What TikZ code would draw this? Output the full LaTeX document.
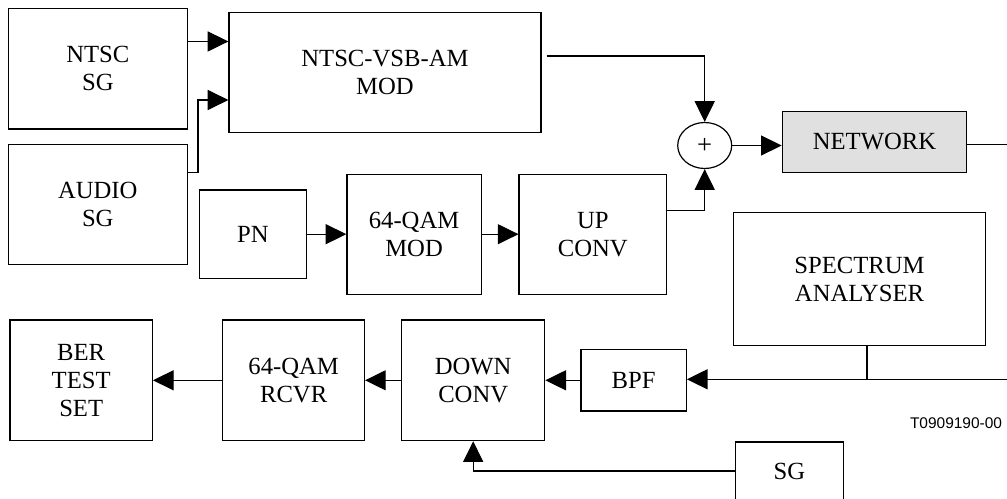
\documentclass[tikz,border=0pt]{standalone}
\usepackage{fontspec}
\setmainfont{Liberation Serif}
\newfontfamily\labelfont{Liberation Sans}
\usepackage{tikz}
\usetikzlibrary{shapes.geometric, arrows.meta, positioning, calc}
\definecolor{netgray}{HTML}{E0E0E0}

\begin{document}
\begin{tikzpicture}[
    x=0.75pt, y=-0.75pt,
    every node/.style={font=\fontsize{18.5}{21}\selectfont},
    block/.style={rectangle, draw, line width=0.9pt, inner sep=0pt, minimum height=90pt, align=center},
    network/.style={block, fill=netgray, minimum width=138.3pt, minimum height=45.8pt},
    summer/.style={ellipse, draw, line width=0.9pt, minimum width=40.5pt, minimum height=34.5pt, inner sep=0pt},
    arrow/.style={-{Triangle[length=15.5pt, width=15pt]}, line width=0.9pt},
    wire/.style={line width=0.9pt}
]
\useasboundingbox (0,0) rectangle (1007,499);

\node[block, minimum width=134.3pt, minimum height=90.5pt] (ntsc) at (97.8,68.7) {NTSC\\SG};
\node[block, minimum width=134.3pt, below=10.7pt of ntsc] (audio) {AUDIO\\SG};
\node[block, minimum width=234pt] (mod) at (385,72.2) {NTSC-VSB-AM\\MOD};
\node[block, minimum width=80.5pt, minimum height=66.2pt] (pn) at (253,234.2) {PN};
\node[block, minimum width=100.7pt, right=29.3pt of pn] (qam) {64-QAM\\MOD};
\node[block, minimum width=110.7pt, right=27.5pt of qam] (upconv) {UP\\CONV};
\node[summer] (sum) at (704.7,145.5) {\fontsize{20}{20}\selectfont +};
\node[network] (net) at (874.5,142) {NETWORK};
\node[block, minimum width=189.3pt, minimum height=100pt] (spec) at (859.5,279) {SPECTRUM\\ANALYSER};
\node[block, minimum width=106.7pt, minimum height=90.5pt] (ber) at (81.2,380.3) {BER\\TEST\\SET};
\node[block, minimum width=106.2pt, minimum height=90.5pt, right=52pt of ber] (rcvr) {64-QAM\\RCVR};
\node[block, minimum width=107.3pt, minimum height=90.5pt, right=27pt of rcvr] (down) {DOWN\\CONV};
\node[block, minimum width=79pt, minimum height=46pt, right=26.25pt of down] (bpf) {BPF};
\node[block, minimum width=80.7pt, minimum height=43.5pt] (sg) at (789.5,471) {SG};
\node[font=\labelfont\fontsize{11.6}{13}\selectfont] (tag) at (956,423) {T0909190-00};

\coordinate (netout) at (1007,144.3);
\coordinate (specin) at (1007,379.3);

\draw[arrow] ($(ntsc.north east)+(0,33.7)$) coordinate (n1) -- (n1 -| mod.west);
\draw[arrow] ($(audio.north east)+(0,29)$) -- ++(10,0) |- ($(mod.north west)+(0,88.4)$);
\draw[arrow] ($(mod.north east)+(5,44.5)$) -| (sum.north);
\draw[arrow] ($(upconv.north east)+(0,36.6)$) -| (sum.south);
\draw[arrow] (sum.east) -- (sum.east -| net.west);
\draw[wire] (net.east |- netout) -- (netout);
\draw[arrow] (pn.east) -- (pn.east -| qam.west);
\draw[arrow] (qam.east) -- (qam.east -| upconv.west);
\draw[arrow] (specin) -- (specin -| bpf.east);
\draw[wire] ($(spec.south)+(7.5,0)$) coordinate (tap) -- (tap |- specin);
\draw[arrow] (bpf.west) -- (bpf.west -| down.east);
\draw[arrow] (down.west) -- (down.west -| rcvr.east);
\draw[arrow] (rcvr.west) -- (rcvr.west -| ber.east);
\draw[arrow] (sg.west) -| (down.south);

\end{tikzpicture}
\end{document}
